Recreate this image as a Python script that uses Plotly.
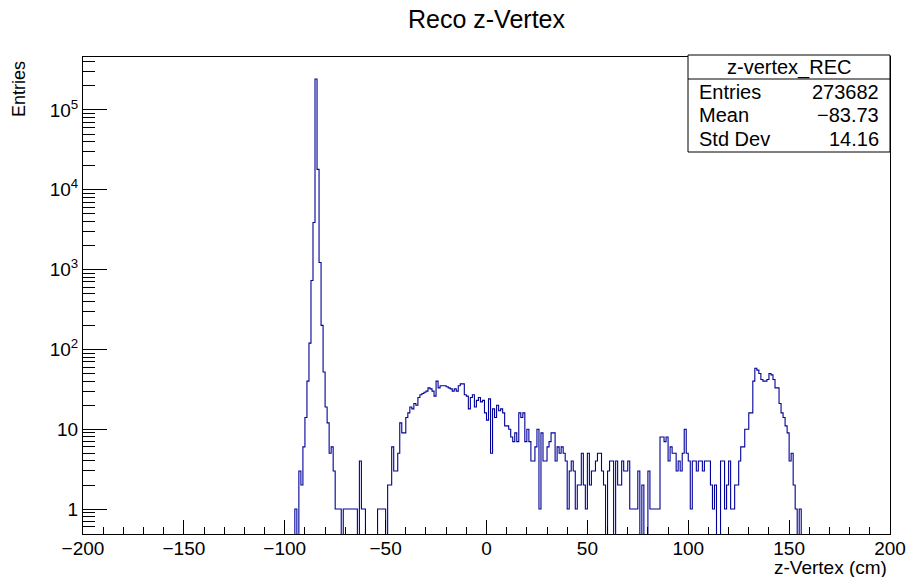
import plotly.graph_objects as go

# ---------------- data ----------------
bin_start = -96          # left edge of first listed bin (cm)
bin_width = 1            # cm
counts = [
    0, 1, 0, 3, 2, 6, 14, 40, 120, 730,                 # -96 .. -87
    3900, 245000, 18000, 1230, 200, 52, 19, 12, 5, 6,   # -86 .. -77
    3, 1, 1, 1, 0, 1, 1, 1, 1, 1,                       # -76 .. -67
    1, 1, 0, 4, 1, 1, 0, 0, 0, 0,                       # -66 .. -57
    0, 0, 1, 1, 1, 1, 0, 2, 2, 6,                       # -56 .. -47
    3, 3, 5, 12, 9, 9, 14, 16, 19, 18,                  # -46 .. -37
    21, 20, 25, 27, 28, 29, 30, 33, 32, 30,             # -36 .. -27
    26, 40, 33, 35, 35, 35, 34, 33, 32, 30,             # -26 .. -17
    32, 30, 35, 37, 37, 27, 26, 18, 25, 27,             # -16 .. -7
    19, 23, 25, 22, 23, 16, 13, 24, 5, 18,              # -6 .. 3
    14, 20, 17, 18, 16, 11, 11, 10, 8, 7,               # 4 .. 13
    9, 7, 16, 14, 16, 7, 10, 7, 4, 4,                   # 14 .. 23
    6, 10, 1, 9, 4, 4, 6, 7, 9, 9,                      # 24 .. 33
    4, 6, 5, 6, 5, 4, 1, 3, 4, 3,                       # 34 .. 43
    1, 2, 2, 5, 2, 1, 5, 2, 3, 3,                       # 44 .. 53
    4, 5, 5, 3, 2, 0, 3, 4, 4, 0,                       # 54 .. 63
    4, 2, 2, 4, 3, 3, 4, 1, 1, 1,                       # 64 .. 73
    1, 3, 0, 2, 0, 0, 3, 1, 1, 1,                       # 74 .. 83
    1, 1, 8, 8, 7, 8, 4, 6, 5, 5,                       # 84 .. 93
    3, 4, 3, 5, 10, 5, 4, 1, 4, 4,                      # 94 .. 103
    3, 4, 4, 3, 4, 4, 4, 2, 1, 2,                       # 104 .. 113
    0, 0, 4, 4, 1, 2, 4, 1, 1, 2,                       # 114 .. 123
    2, 4, 6, 6, 10, 10, 16, 16, 40, 58,                 # 124 .. 133
    55, 50, 42, 40, 40, 42, 50, 48, 42, 33,             # 134 .. 143
    33, 21, 16, 14, 11, 9, 4, 5, 2, 1,                  # 144 .. 153
    0, 1, 0, 0,                                         # 154 .. 157
]

x_ticks = [-200, -150, -100, -50, 0, 50, 100, 150, 200]
y_tickvals = [1, 10, 100, 1000, 10000, 100000]
y_ticktext = ["1", "10", "10<sup>2</sup>", "10<sup>3</sup>", "10<sup>4</sup>", "10<sup>5</sup>"]

hist_name = "z-vertex_REC"
stat_labels = ["Entries", "Mean", "Std Dev"]
stat_values = ["273682", "\u221283.73", "14.16"]

title_text = "Reco z-Vertex"
x_title = "z-Vertex (cm)"
y_title = "Entries"

# ---------------- figure ----------------
W, H = 906, 577
ml, mr, mt, mb = 83, 16, 57, 43
y_log_range = [-0.313, 5.664]
floor_val = 10 ** (y_log_range[0] - 0.5)  # empty bins drawn at the frame bottom (log scale)

edges = [bin_start + i * bin_width for i in range(len(counts) + 1)]
yplot = [c if c > 0 else floor_val for c in counts]
xs = edges
ys = yplot + [yplot[-1]]

FONT = "Liberation Sans, Arial, Helvetica, sans-serif"
LINE = "#000099"
TICKF = 19
STATF = 20

fig = go.Figure()
fig.add_trace(go.Scatter(
    x=xs, y=ys, mode="lines", line=dict(color=LINE, width=1.1, shape="hv"),
    hoverinfo="skip", showlegend=False,
))

fig.update_layout(
    width=W, height=H,
    margin=dict(l=ml, r=mr, t=mt, b=mb, autoexpand=False),
    paper_bgcolor="white", plot_bgcolor="white",
    font=dict(family=FONT, size=TICKF, color="black"),
    title=dict(text=title_text, x=(ml + (W - ml - mr) / 2) / W, xanchor="center",
               y=1 - 19 / H, yanchor="middle", yref="container",
               font=dict(family=FONT, size=25, color="black")),
    showlegend=False,
)

fig.update_xaxes(
    range=[-200, 200], tickvals=x_ticks, ticks="inside", ticklen=14, tickwidth=1,
    tickcolor="black", showline=True, linecolor="black", linewidth=1, mirror=True,
    showgrid=False, zeroline=False, tickfont=dict(size=TICKF), automargin=False,
    ticklabelstandoff=-3,
    minor=dict(ticks="inside", dtick=10, ticklen=7, tickcolor="black", showgrid=False),
)
fig.update_yaxes(
    type="log", range=y_log_range, tickvals=y_tickvals, ticktext=y_ticktext,
    ticks="inside", ticklen=24, tickwidth=1, tickcolor="black",
    showline=True, linecolor="black", linewidth=1, mirror=True,
    showgrid=False, zeroline=False, tickfont=dict(size=TICKF), automargin=False,
    minor=dict(ticks="inside", dtick="D1", ticklen=12, tickcolor="black", showgrid=False),
)

pw = W - ml - mr
ph = H - mt - mb
def px(xp):
    return (xp - ml) / pw
def py(yp):
    return (H - mb - yp) / ph

# axis titles
fig.add_annotation(text=x_title, xref="paper", yref="paper", x=px(889), y=py(567),
                   xanchor="right", yanchor="middle", showarrow=False,
                   font=dict(family=FONT, size=TICKF))
fig.add_annotation(text=y_title, xref="paper", yref="paper", x=px(19), y=py(59),
                   xanchor="center", yanchor="top", textangle=-90, showarrow=False,
                   font=dict(family=FONT, size=18))

# stats box
bx0, bx1, by0, by1, bsep = 688, 890, 55, 152, 79
fig.add_shape(type="rect", xref="paper", yref="paper", x0=px(bx0), x1=px(bx1),
              y0=py(by1), y1=py(by0), line=dict(color="black", width=1), fillcolor="white")
fig.add_shape(type="line", xref="paper", yref="paper", x0=px(bx0), x1=px(bx1),
              y0=py(bsep), y1=py(bsep), line=dict(color="black", width=1))
fig.add_annotation(text=hist_name, xref="paper", yref="paper", x=px((bx0 + bx1) / 2), y=py(67),
                   xanchor="center", yanchor="middle", showarrow=False, font=dict(family=FONT, size=STATF))
row_y = [92, 115, 139]
for lab, val, ry in zip(stat_labels, stat_values, row_y):
    fig.add_annotation(text=lab, xref="paper", yref="paper", x=px(697), y=py(ry),
                       xanchor="left", yanchor="middle", showarrow=False, font=dict(family=FONT, size=STATF))
    fig.add_annotation(text=val, xref="paper", yref="paper", x=px(881), y=py(ry),
                       xanchor="right", yanchor="middle", showarrow=False, font=dict(family=FONT, size=STATF))

fig.write_html("out.html")
